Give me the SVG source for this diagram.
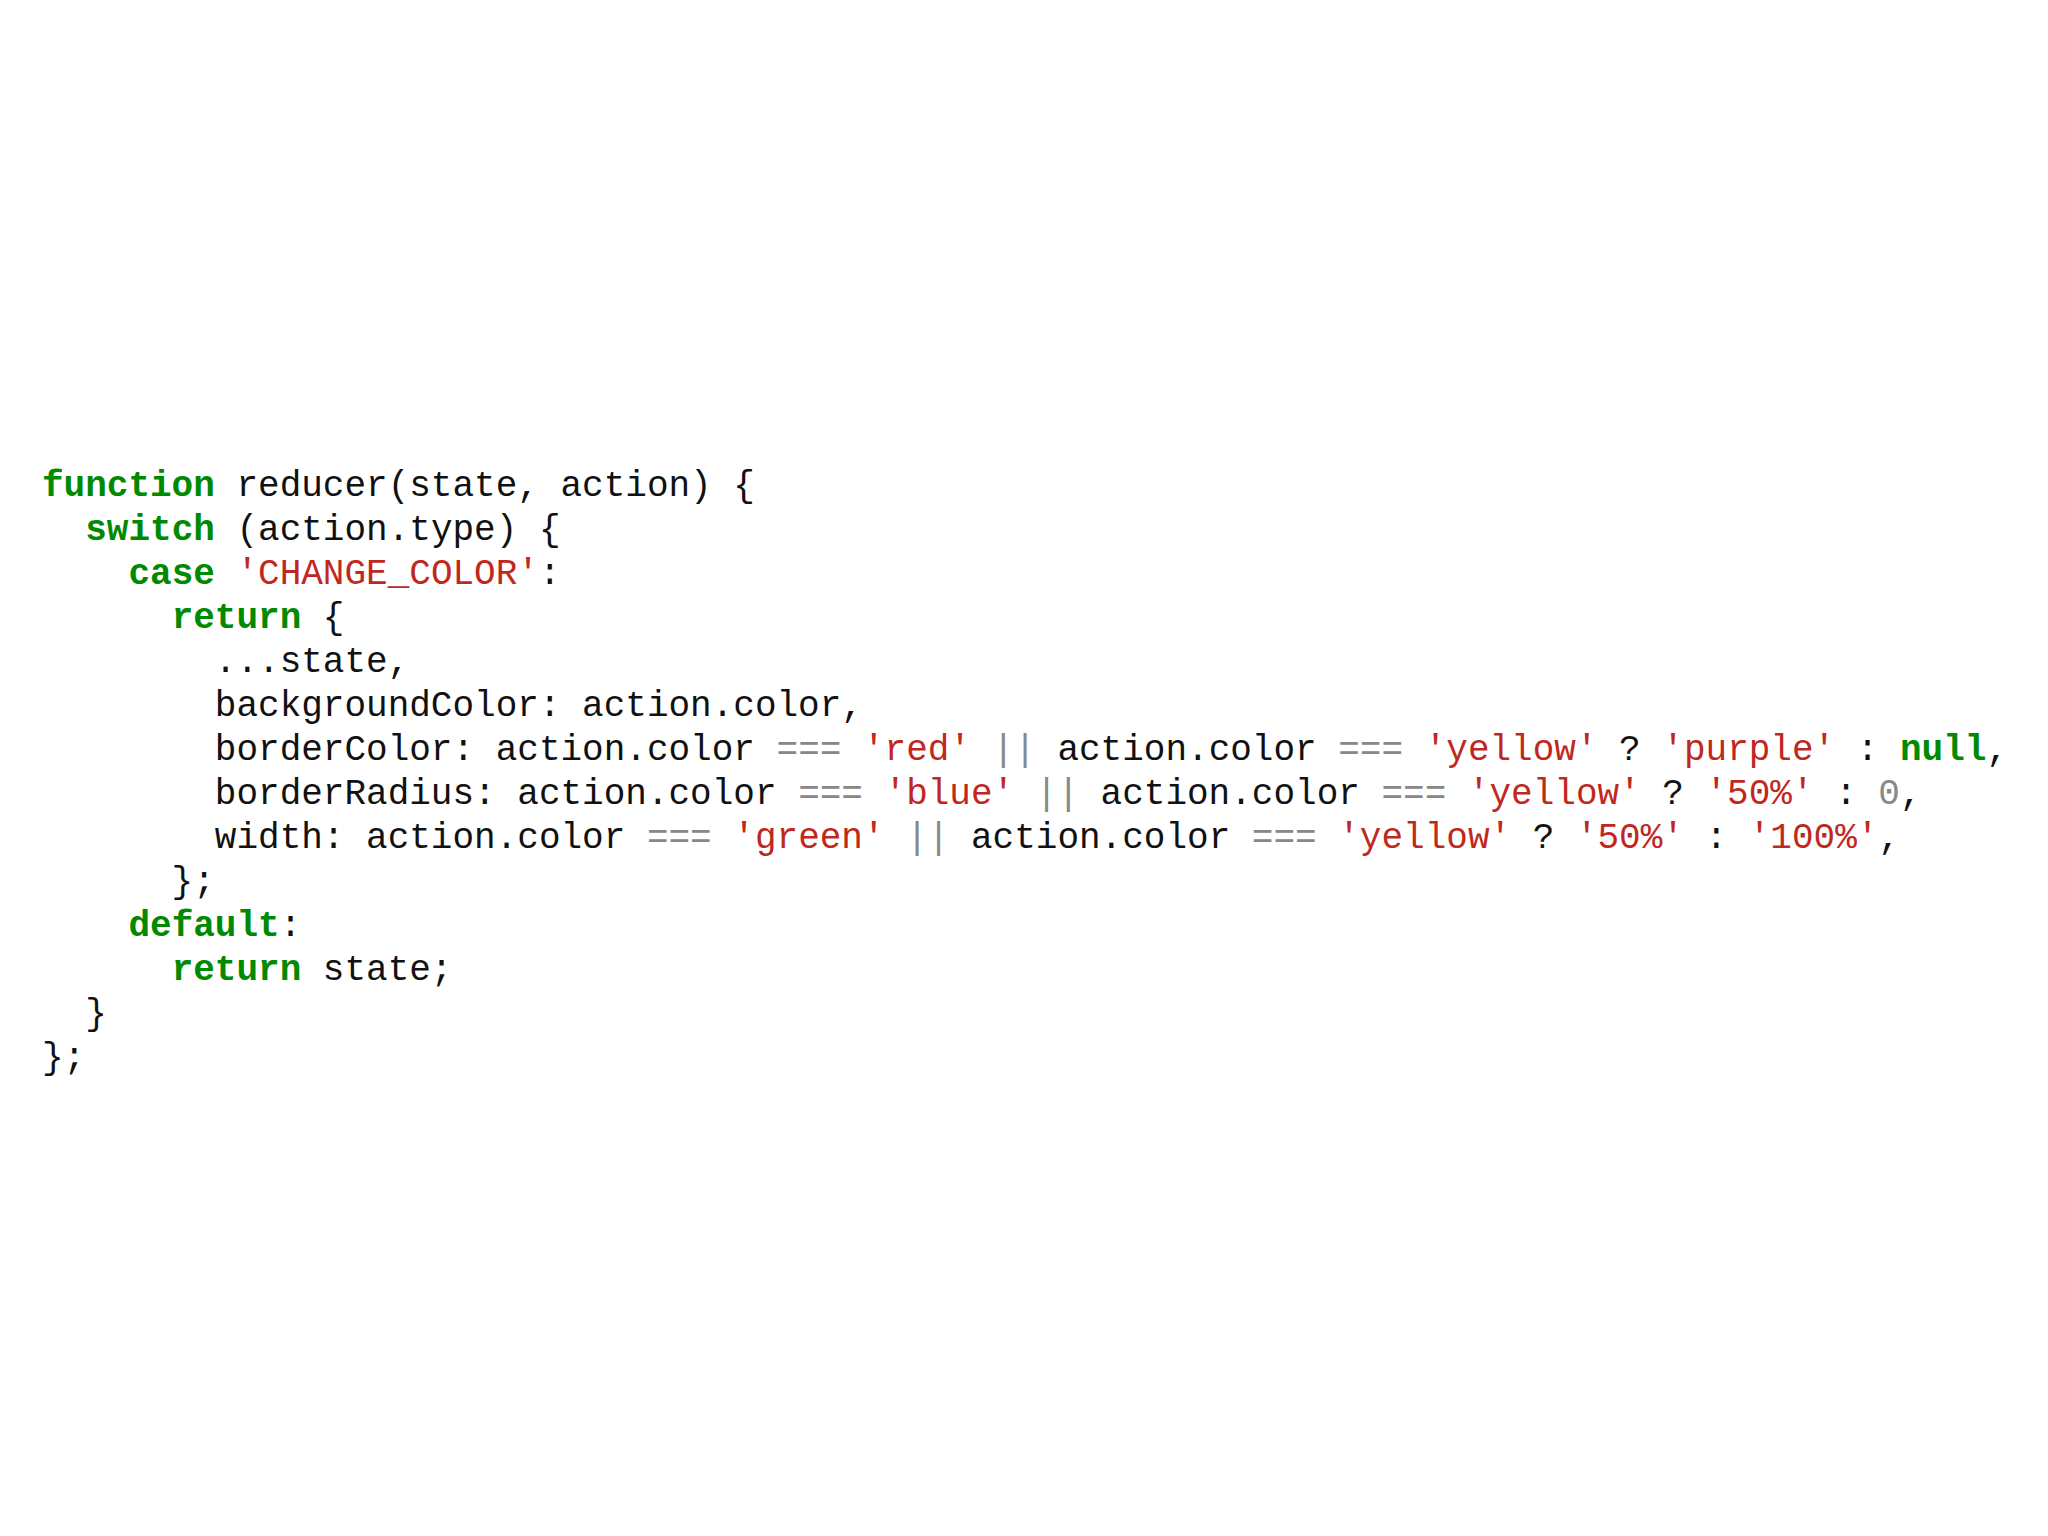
<svg xmlns="http://www.w3.org/2000/svg" width="2048" height="1536" viewBox="0 0 2048 1536">
<style>
text{font-family:"Liberation Mono","Courier New",monospace;font-size:36px;fill:#111;white-space:pre}
.k{fill:#008a00;font-weight:bold}
.s{fill:#c0281e}
.o{fill:#888}
</style>
<rect width="2048" height="1536" fill="#fff"/>
<g id="code" xml:space="preserve">
<text x="42" y="496"><tspan class="k">function</tspan> reducer(state, action) {</text>
<text x="42" y="540">  <tspan class="k">switch</tspan> (action.type) {</text>
<text x="42" y="584">    <tspan class="k">case</tspan> <tspan class="s">'CHANGE_COLOR'</tspan>:</text>
<text x="42" y="628">      <tspan class="k">return</tspan> {</text>
<text x="42" y="672">        ...state,</text>
<text x="42" y="716">        backgroundColor: action.color,</text>
<text x="42" y="760">        borderColor: action.color <tspan class="o">===</tspan> <tspan class="s">'red'</tspan> <tspan class="o">||</tspan> action.color <tspan class="o">===</tspan> <tspan class="s">'yellow'</tspan> ? <tspan class="s">'purple'</tspan> : <tspan class="k">null</tspan>,</text>
<text x="42" y="804">        borderRadius: action.color <tspan class="o">===</tspan> <tspan class="s">'blue'</tspan> <tspan class="o">||</tspan> action.color <tspan class="o">===</tspan> <tspan class="s">'yellow'</tspan> ? <tspan class="s">'50%'</tspan> : <tspan class="o">0</tspan>,</text>
<text x="42" y="848">        width: action.color <tspan class="o">===</tspan> <tspan class="s">'green'</tspan> <tspan class="o">||</tspan> action.color <tspan class="o">===</tspan> <tspan class="s">'yellow'</tspan> ? <tspan class="s">'50%'</tspan> : <tspan class="s">'100%'</tspan>,</text>
<text x="42" y="892">      };</text>
<text x="42" y="936">    <tspan class="k">default</tspan>:</text>
<text x="42" y="980">      <tspan class="k">return</tspan> state;</text>
<text x="42" y="1024">  }</text>
<text x="42" y="1068">};</text>
</g>
</svg>
